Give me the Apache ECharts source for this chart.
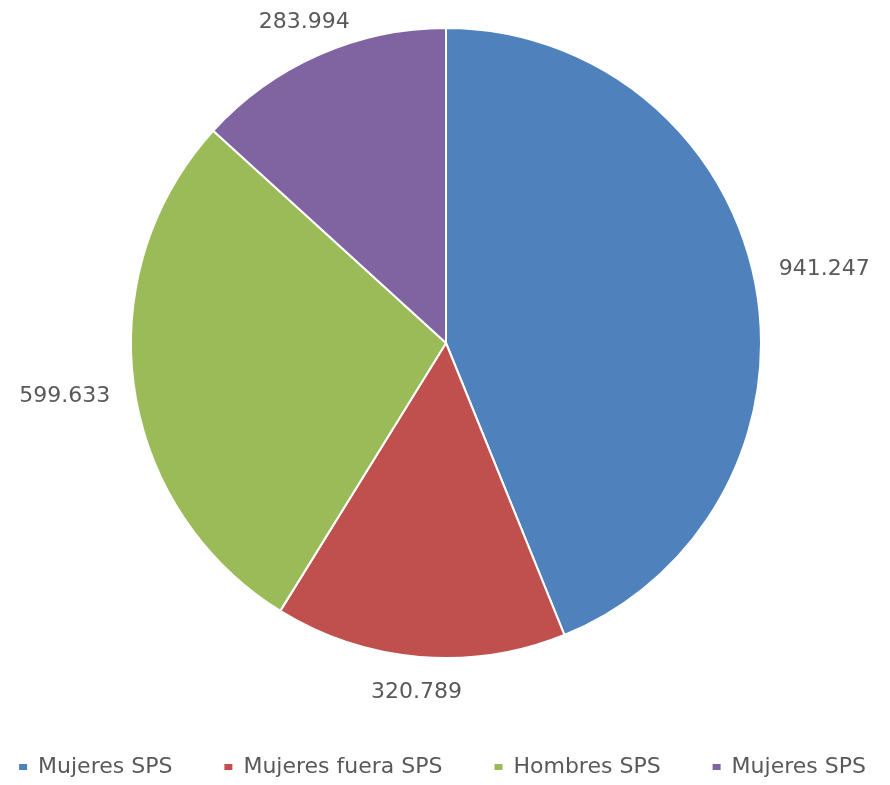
<!DOCTYPE html>
<html>
<head>
<meta charset="utf-8">
<script src="https://cdn.jsdelivr.net/npm/echarts@6/dist/echarts.min.js"></script>
<style>
  html, body { margin: 0; padding: 0; background: #fff; }
  #main { width: 890px; height: 785px; }
</style>
</head>
<body>
<div id="main"></div>
<script>
// datos del grafico
var categorias = ['Mujeres SPS', 'Mujeres fuera SPS', 'Hombres SPS', 'Mujeres SPS '];
var valores = [941247, 320789, 599633, 283994];
var colores = ['#4F81BD', '#C0504D', '#9BBB59', '#8064A2'];

var centro = [446, 343];
var radio = 315;

function formato(v) {
  return String(v).replace(/\B(?=(\d{3})+(?!\d))/g, '.');
}

var total = valores.reduce(function (a, b) { return a + b; }, 0);
var acumulado = [];
var s = 0;
valores.forEach(function (v) { acumulado.push(s); s += v; });

var datos = categorias.map(function (c, i) {
  return { name: c, value: valores[i] };
});

var chart = echarts.init(document.getElementById('main'));
chart.setOption({
  animation: false,
  color: colores,
  legend: {
    top: 751,
    left: 'center',
    itemWidth: 10,
    itemHeight: 8,
    itemGap: 50,
    icon: 'rect',
    textStyle: { fontFamily: 'DejaVu Sans', fontSize: 22, color: '#595959', padding: [0, 0, 0, 5] },
    data: categorias
  },
  series: [{
    type: 'pie',
    center: centro,
    radius: [0, radio],
    startAngle: 90,
    clockwise: true,
    data: datos,
    itemStyle: { borderColor: '#fff', borderWidth: 2 },
    label: {
      show: true,
      position: 'outside',
      overflow: 'none',
      formatter: function (p) { return formato(p.value); },
      fontFamily: 'DejaVu Sans',
      fontSize: 22,
      color: '#595959'
    },
    labelLine: { show: false },
    // etiquetas como en Excel: centradas sobre la prolongacion del radio
    labelLayout: function (p) {
      var i = p.dataIndex;
      var ang = (acumulado[i] + valores[i] / 2) / total * Math.PI * 2;
      var ux = Math.sin(ang), uy = -Math.cos(ang);
      var a = p.labelRect.width / 2, b = p.labelRect.height / 2;
      var d = Math.min(a / Math.abs(ux), b / Math.abs(uy));
      var dist = radio + 24 + d;
      return {
        x: centro[0] + ux * dist,
        y: centro[1] + uy * dist,
        align: 'center',
        verticalAlign: 'middle'
      };
    }
  }]
});
</script>
</body>
</html>
